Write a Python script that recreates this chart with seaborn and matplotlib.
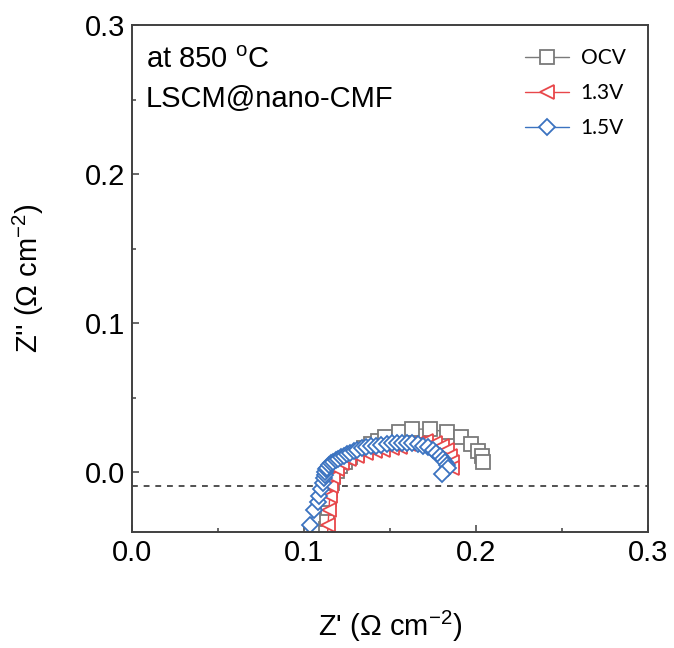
import matplotlib
matplotlib.use("Agg")
import matplotlib.pyplot as plt
import seaborn as sns
import pandas as pd

# ---- data ----
ocv_x = [0.1125, 0.113, 0.1135, 0.114, 0.1145, 0.115, 0.116, 0.117, 0.119, 0.121,
         0.124, 0.127, 0.131, 0.135, 0.139, 0.143, 0.147, 0.155, 0.163, 0.173,
         0.183, 0.191, 0.197, 0.201, 0.2035, 0.204]
ocv_y = [-0.045, -0.038, -0.031, -0.024, -0.018, -0.012, -0.007, -0.003, 0.001, 0.004,
         0.007, 0.010, 0.013, 0.016, 0.019, 0.021, 0.024, 0.027, 0.029, 0.029,
         0.027, 0.024, 0.019, 0.014, 0.011, 0.007]

v13_x = [0.1135, 0.114, 0.1145, 0.115, 0.1157, 0.117, 0.119, 0.122, 0.126, 0.131,
         0.136, 0.141, 0.146, 0.151, 0.156, 0.161, 0.166, 0.171, 0.176, 0.180,
         0.183, 0.185, 0.186, 0.186]
v13_y = [-0.045, -0.035, -0.025, -0.016, -0.009, -0.003, 0.002, 0.006, 0.009, 0.011,
         0.013, 0.014, 0.015, 0.016, 0.017, 0.019, 0.020, 0.021, 0.020, 0.018,
         0.015, 0.011, 0.007, 0.003]

v15_x = [0.1035, 0.106, 0.108, 0.109, 0.110, 0.111, 0.1116, 0.112, 0.1124, 0.1128,
         0.1135, 0.1145, 0.1155, 0.117, 0.1185, 0.120, 0.1215, 0.123, 0.125, 0.127,
         0.129, 0.131, 0.1335, 0.136, 0.139, 0.142, 0.145, 0.148, 0.151, 0.154,
         0.157, 0.160, 0.163, 0.166, 0.169, 0.172, 0.175, 0.177, 0.179, 0.181,
         0.182, 0.183, 0.184, 0.180]
v15_y = [-0.035, -0.025, -0.020, -0.016, -0.011, -0.007, -0.004, -0.002, 0.000, 0.002,
         0.003, 0.005, 0.006, 0.007, 0.008, 0.009, 0.010, 0.011, 0.012, 0.013,
         0.014, 0.015, 0.016, 0.017, 0.0175, 0.018, 0.0185, 0.019, 0.0195, 0.020,
         0.020, 0.020, 0.0195, 0.019, 0.018, 0.017, 0.015, 0.013, 0.011, 0.009,
         0.007, 0.005, 0.003, -0.001]

labels = ["OCV", "1.3V", "1.5V"]
dash_y = -0.009
x_ticks = [0.0, 0.1, 0.2, 0.3]
y_ticks = [0.0, 0.1, 0.2, 0.3]
minor_ticks = [0.05, 0.15, 0.25]

# ---- style ----
sns.set_theme(style="ticks")
plt.rcParams["font.family"] = ["Liberation Sans", "DejaVu Sans"]
plt.rcParams["mathtext.default"] = "regular"
plt.rcParams["text.color"] = "black"
plt.rcParams["axes.labelcolor"] = "black"

spine_c = "#404040"
colors = ["#7a7a7a", "#e8474a", "#3b73c0"]
markers = ["s", "<", "D"]
msizes = [10.3, 10.0, 8.4]

fig = plt.figure(figsize=(6.74, 6.48), dpi=100)
ax = fig.add_axes([132 / 674, 1 - 532 / 648, 516 / 674, 507 / 648])

series = [(ocv_x, ocv_y), (v13_x, v13_y), (v15_x, v15_y)]
for (xs, ys), lab, c, m, ms in zip(series, labels, colors, markers, msizes):
    df = pd.DataFrame({"x": xs, "y": ys})
    sns.lineplot(data=df, x="x", y="y", sort=False, estimator=None, ax=ax,
                 color=c, linewidth=1.0, marker=m, markersize=ms,
                 markerfacecolor="white", markeredgecolor=c, markeredgewidth=1.3,
                 label=lab)

ax.axhline(dash_y, color="#333333", lw=1.2, ls=(0, (3.5, 3.5)), zorder=1)

ax.set_xlim(0.0, 0.3)
ax.set_ylim(-0.04, 0.3)
ax.set_xticks(x_ticks)
ax.set_yticks(y_ticks)
ax.set_xticks(minor_ticks, minor=True)
ax.set_yticks(minor_ticks, minor=True)
ax.set_xticklabels([f"{v:.1f}" for v in x_ticks])
ax.set_yticklabels([f"{v:.1f}" for v in y_ticks])
ax.tick_params(which="both", direction="in", color=spine_c, width=1.1,
               labelsize=21, labelcolor="black")
ax.tick_params(which="major", length=5)
ax.tick_params(which="minor", length=3)
ax.tick_params(axis="x", pad=5)
ax.tick_params(axis="y", pad=5)
for sp in ax.spines.values():
    sp.set_color(spine_c)
    sp.set_linewidth(1.4)
    sp.set_visible(True)

ax.set_xlabel("Z' (\u03a9 cm$^{-2}$)", fontsize=21)
ax.set_ylabel("Z'' (\u03a9 cm$^{-2}$)", fontsize=21)
ax.xaxis.set_label_coords(0.5, -0.152)
ax.yaxis.set_label_coords(-0.166, 0.5)

ax.text(0.027, 0.915, "at 850 $^{o}$C", transform=ax.transAxes, fontsize=21,
        va="baseline", ha="left")
ax.text(0.027, 0.838, "LSCM@nano-CMF", transform=ax.transAxes, fontsize=21,
        va="baseline", ha="left")

leg = ax.legend(loc="upper left", bbox_to_anchor=(0.726, 0.992), frameon=False,
                handlelength=2.1, handletextpad=0.55, labelspacing=0.72,
                borderaxespad=0.5, prop={"family": "Lato", "size": 15})
for t in leg.get_texts():
    t.set_color("black")

fig.savefig("out.png", dpi=100)
